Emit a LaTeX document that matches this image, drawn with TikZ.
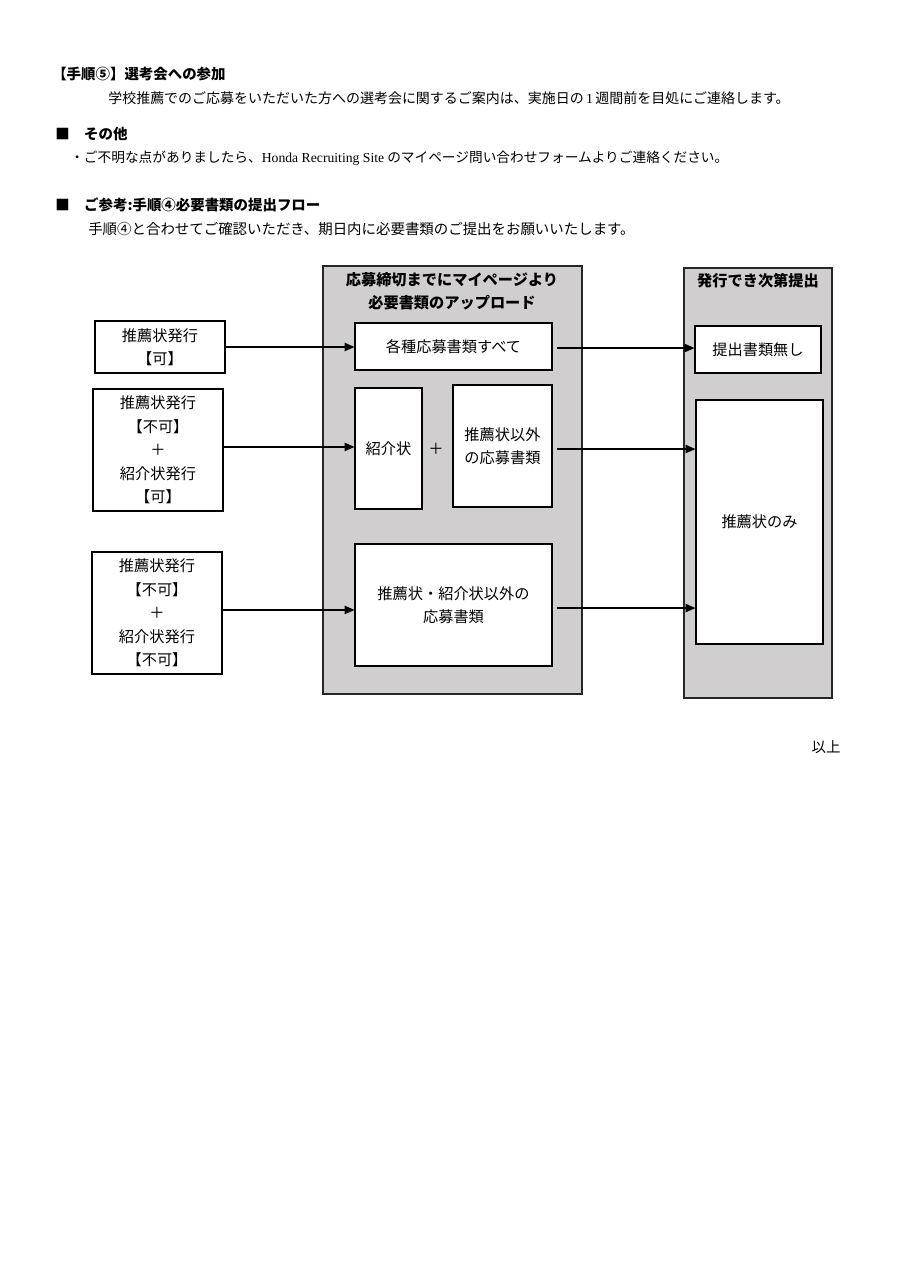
\documentclass[tikz,border=0pt]{standalone}
\usepackage{fontspec}
\setmainfont{Noto Sans CJK JP}
\newfontfamily\latinserif{Liberation Serif}
\usetikzlibrary{arrows.meta}
\definecolor{panelgray}{HTML}{D0CECE}
\def\pxu{0.6578pt}
\newcommand\docbodyfont{\fontsize{9.5}{14}\selectfont}
\newcommand\docheadfont{\fontsize{9.5}{14}\selectfont\bfseries}
\newcommand\flowboxfont{\fontsize{10}{15.4}\selectfont}
\newcommand\flowtitlefont{\fontsize{10}{15.2}\selectfont\bfseries}
\tikzset{
  sized/.style n args={2}{minimum width=#1*\pxu, minimum height=#2*\pxu},
  docbox/.style ={rectangle, draw=black, line width=0.7pt, fill=white, inner sep=0pt,
                  align=center, font=\flowboxfont},
  panel/.style  ={rectangle, draw=black!85, line width=0.7pt, fill=panelgray, inner sep=0pt},
  ptitle/.style ={align=center, font=\flowtitlefont, inner sep=0pt},
  flowarr/.style={-{Triangle[length=6.5pt, width=5.5pt]}, line width=0.8pt},
  bodytxt/.style={anchor=west, font=\docbodyfont, inner sep=0pt},
  headtxt/.style={anchor=west, font=\docheadfont, inner sep=0pt},
}

\begin{document}
\begin{tikzpicture}[x=0.6578pt, y=-0.6578pt]
  \fill[white] (0,0) rectangle (905,1280);
  \useasboundingbox (0,0) rectangle (905,1280);

  % text above the flow
  \node[headtxt] (step5) at (52,74) {【手順⑤】選考会への参加};
  \node[bodytxt, font=\fontsize{9.2}{14}\selectfont] (step5txt) at (108,98) {学校推薦でのご応募をいただいた方への選考会に関するご案内は、実施日の{\latinserif\,1\,}週間前を目処にご連絡します。};
  \node[headtxt] (other) at (55,134) {■\quad その他};
  \node[bodytxt, font=\fontsize{9}{14}\selectfont] (othertxt) at (70,158) {・ご不明な点がありましたら、{\latinserif Honda Recruiting Site} のマイページ問い合わせフォームよりご連絡ください。};
  \node[headtxt] (refer) at (55,205) {■\quad ご参考:手順④必要書類の提出フロー};
  \node[bodytxt] (refertxt) at (88,229) {手順④と合わせてご確認いただき、期日内に必要書類のご提出をお願いいたします。};

  % grey panels
  \node[panel, sized={259}{428}] (upload) at (452.5,480) {};
  \node[ptitle] (uptitle) at (452,291) {応募締切までにマイページより\\必要書類のアップロード};
  \node[panel, sized={148}{430}] (submit) at (758,483) {};
  \node[ptitle] (subtitle) at (758,281) {発行でき次第提出};

  % left: issuing conditions
  \node[docbox, sized={130}{52}]  (l1) at (160,347) {推薦状発行\\【可】};
  \node[docbox, sized={130}{122}] (l2) at (158,450) {推薦状発行\\【不可】\\＋\\紹介状発行\\【可】};
  \node[docbox, sized={130}{122}] (l3) at (157,613) {推薦状発行\\【不可】\\＋\\紹介状発行\\【不可】};

  % middle: upload
  \node[docbox, sized={197}{47}]  (m1)  at (453.5,346.5) {各種応募書類すべて};
  \node[docbox, sized={67}{121}]  (m2a) at (388.5,448.5) {紹介状};
  \node[font=\flowboxfont, inner sep=0pt] (plus) at (436,449) {＋};
  \node[docbox, sized={99}{122}]  (m2b) at (502.5,446) {推薦状以外\\の応募書類};
  \node[docbox, sized={197}{122}] (m3)  at (453.5,605) {推薦状・紹介状以外の\\応募書類};

  % right: submit later
  \node[docbox, sized={126}{47}]  (r1) at (758,349.5) {提出書類無し};
  \node[docbox, sized={127}{244}] (r2) at (759.5,522) {推薦状のみ};

  \draw[flowarr] (l1.east) -- (l1.east -| m1.west);
  \draw[flowarr] ([yshift=2pt]l2.east) -- ([yshift=2pt]l2.east -| m2a.west);
  \draw[flowarr] ([yshift=2pt]l3.east) -- ([yshift=2pt]l3.east -| m3.west);
  \draw[flowarr, shorten <=3pt] ([yshift=-1pt]m1.east) -- ([yshift=-1pt]m1.east -| r1.west);
  \draw[flowarr, shorten <=3pt] ([yshift=-2pt]m2b.east) -- ([yshift=-2pt]m2b.east -| r2.west);
  \draw[flowarr, shorten <=3pt] ([yshift=-2pt]m3.east) -- ([yshift=-2pt]m3.east -| r2.west);

  \node[font=\docbodyfont, inner sep=0pt] (ijou) at (826,747) {以上};
\end{tikzpicture}
\end{document}
